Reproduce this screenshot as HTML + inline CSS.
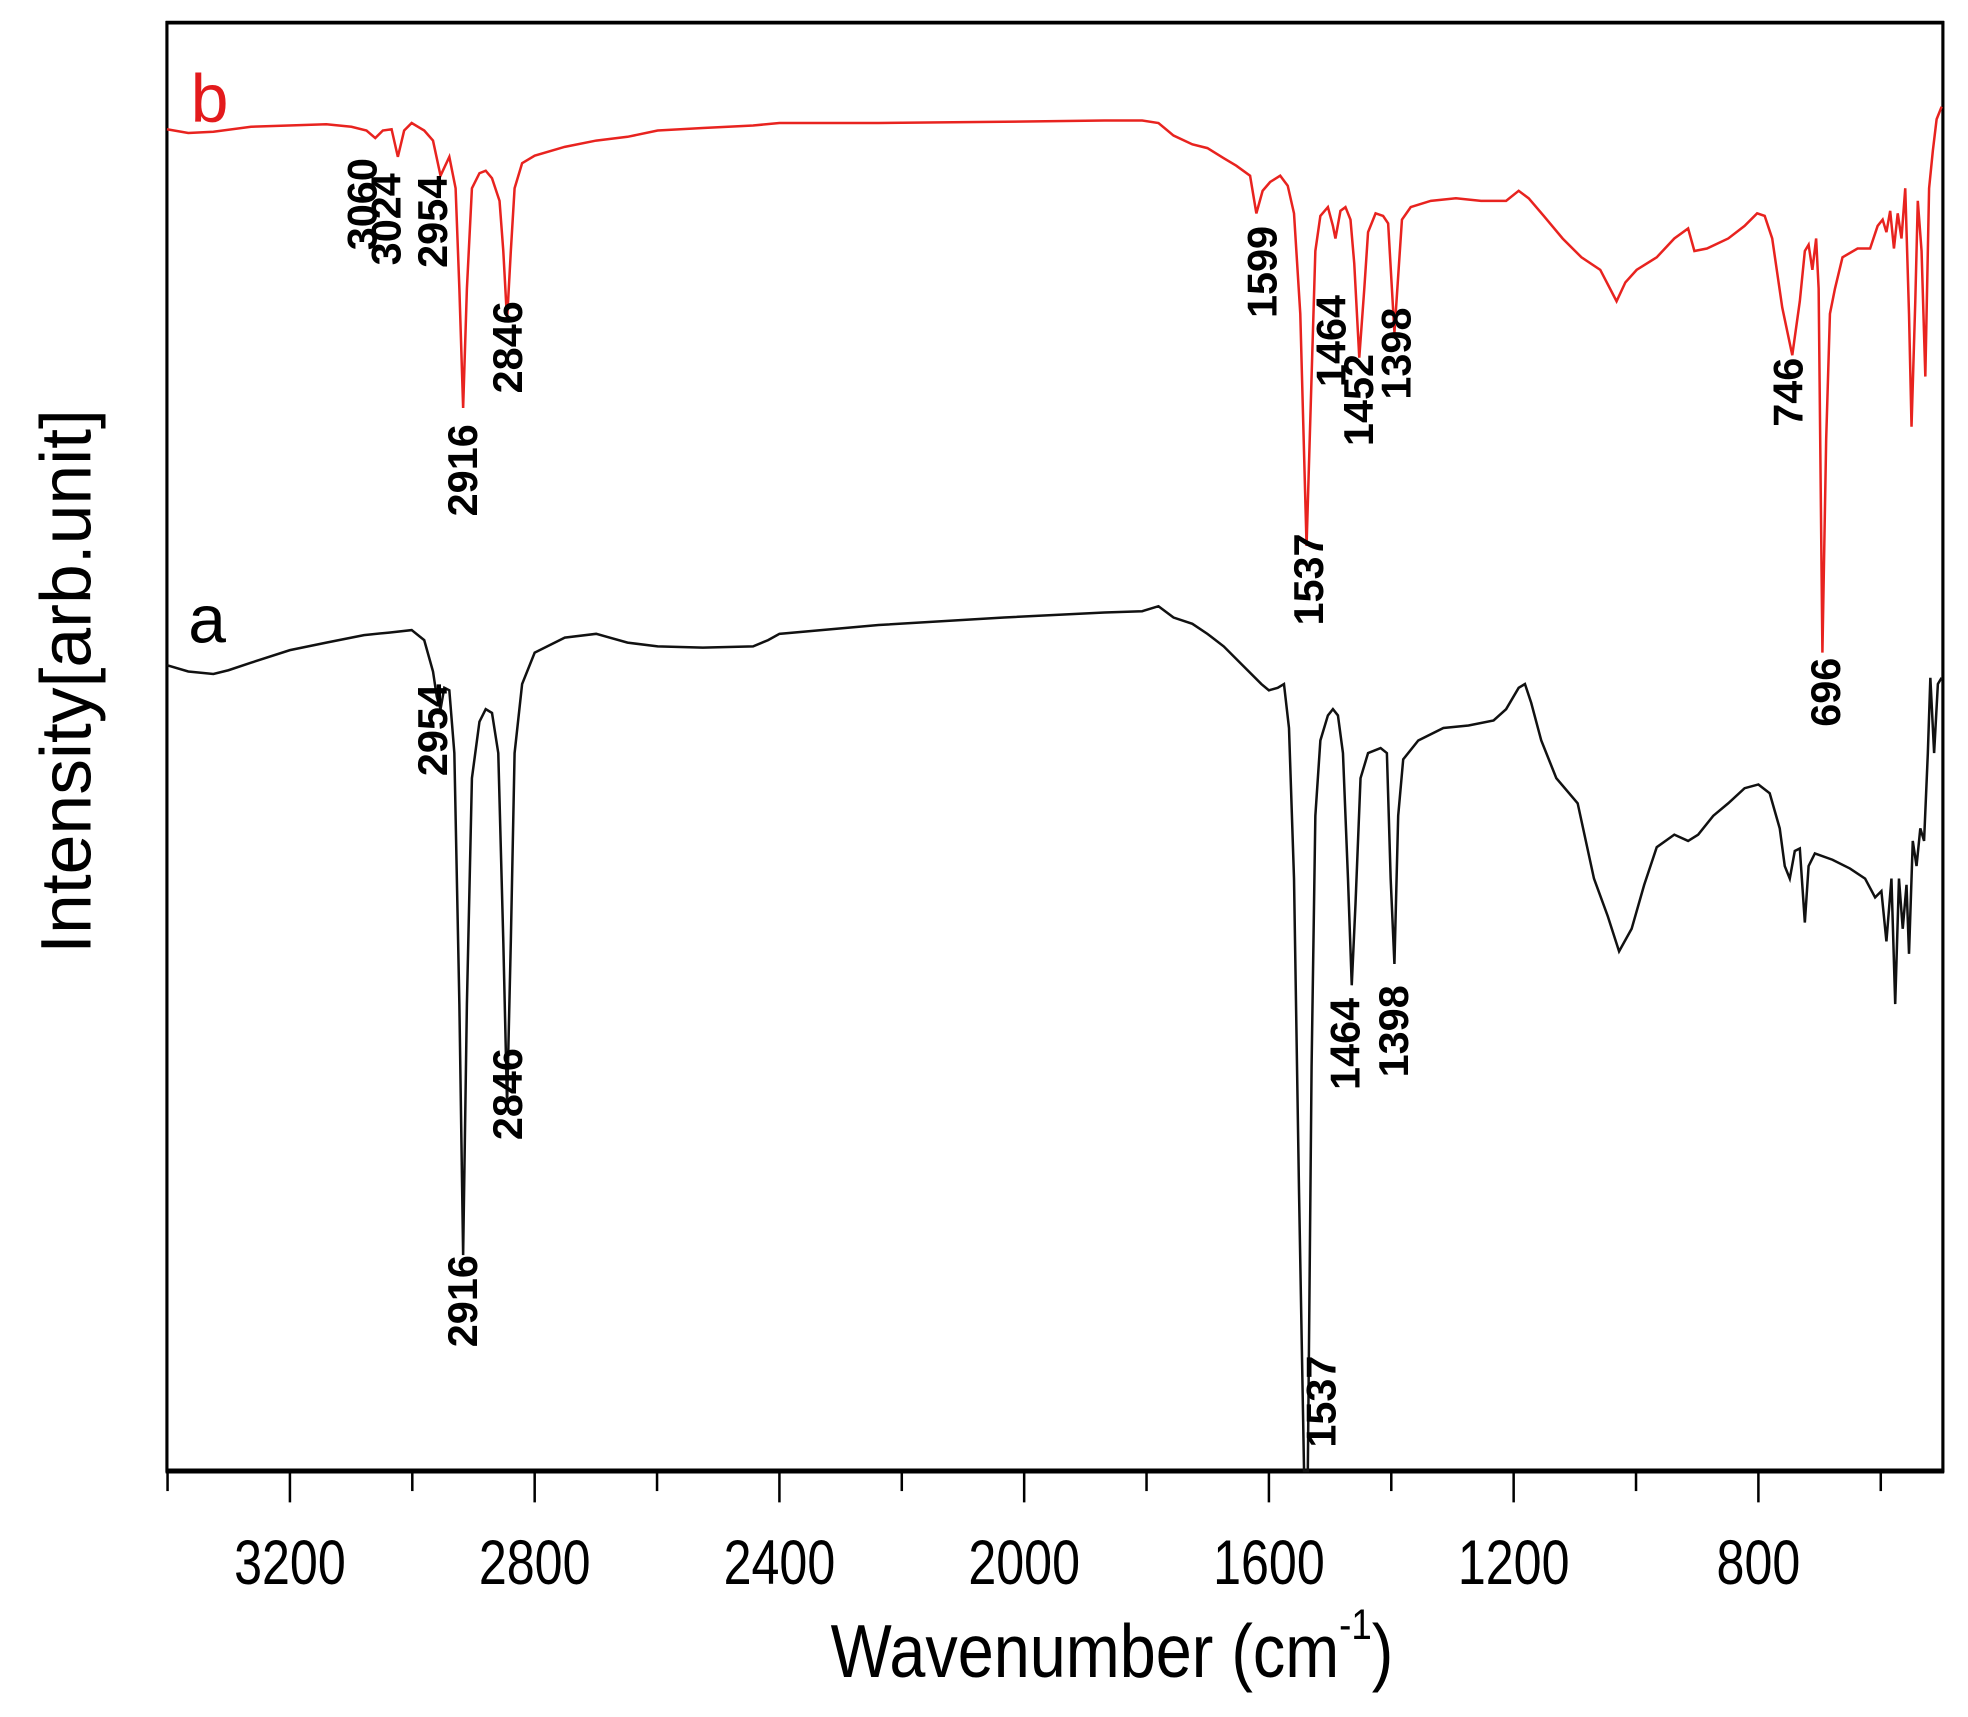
<!DOCTYPE html>
<html><head><meta charset="utf-8"><style>
html,body{margin:0;padding:0;background:#fff;}
svg{display:block;}
text{font-family:"Liberation Sans",sans-serif;}
.pk{font-size:33px;font-weight:bold;fill:#000;}
</style></head><body>
<svg width="1968" height="1717" viewBox="0 0 1568 1368" preserveAspectRatio="none" xmlns="http://www.w3.org/2000/svg">
<rect x="0" y="0" width="1568" height="1368" fill="#fff"/>
<rect x="133" y="18" width="1415" height="1154" fill="none" stroke="#000" stroke-width="2.5"/>
<line x1="132" y1="1172" x2="1549" y2="1172" stroke="#000" stroke-width="4"/>
<line x1="132" y1="18" x2="1549" y2="18" stroke="#000" stroke-width="3"/>
<g stroke="#000" stroke-width="2">
<line x1="231" y1="1172" x2="231" y2="1197"/>
<line x1="426" y1="1172" x2="426" y2="1197"/>
<line x1="621" y1="1172" x2="621" y2="1197"/>
<line x1="816" y1="1172" x2="816" y2="1197"/>
<line x1="1011" y1="1172" x2="1011" y2="1197"/>
<line x1="1206" y1="1172" x2="1206" y2="1197"/>
<line x1="1401" y1="1172" x2="1401" y2="1197"/>
<line x1="133.5" y1="1172" x2="133.5" y2="1188"/>
<line x1="328.5" y1="1172" x2="328.5" y2="1188"/>
<line x1="523.5" y1="1172" x2="523.5" y2="1188"/>
<line x1="718.5" y1="1172" x2="718.5" y2="1188"/>
<line x1="913.5" y1="1172" x2="913.5" y2="1188"/>
<line x1="1108.5" y1="1172" x2="1108.5" y2="1188"/>
<line x1="1303.5" y1="1172" x2="1303.5" y2="1188"/>
<line x1="1498.5" y1="1172" x2="1498.5" y2="1188"/>
</g>
<g font-size="50" text-anchor="middle" fill="#000">
<text transform="translate(231,1262) scale(0.8,1)">3200</text>
<text transform="translate(426,1262) scale(0.8,1)">2800</text>
<text transform="translate(621,1262) scale(0.8,1)">2400</text>
<text transform="translate(816,1262) scale(0.8,1)">2000</text>
<text transform="translate(1011,1262) scale(0.8,1)">1600</text>
<text transform="translate(1206,1262) scale(0.8,1)">1200</text>
<text transform="translate(1401,1262) scale(0.8,1)">800</text>
</g>
<text transform="translate(886,1336) scale(0.86,1)" font-size="60" text-anchor="middle" fill="#000">Wavenumber (cm<tspan font-size="34" dy="-30">-1</tspan><tspan dy="30">)</tspan></text>
<text transform="translate(72,543) rotate(-90)" font-size="57" text-anchor="middle" fill="#000">Intensity[arb.unit]</text>
<text x="152" y="97" font-size="54" fill="#e31a1c">b</text>
<text x="150" y="512" font-size="54" fill="#000">a</text>
<polyline fill="none" stroke="#e8231f" stroke-width="2" points="
133,103 150,106 170,105 200,101 230,100 260,99 280,101 292,104 299,110 305,104 312,103 317,125 322,104 328,98 338,104 345,112 351,140 358,125 363,150 366,230 369,325 372,230 376,150 382,138 387,136 392,142 398,160 401,200 404,255 407,200 410,150 416,130 426,124 450,117 475,112 500,109 524,104 560,102 600,100 621,98 700,98 800,97 880,96 910,96 923,98 935,108 950,115 962,118 975,126 985,132 996,140 1001,170 1006,152 1012,145 1020,140 1026,148 1031,170 1036,250 1041,435 1045,300 1048,200 1052,172 1058,165 1062,180 1064,190 1068,168 1072,165 1076,175 1079,210 1083,285 1087,230 1090,185 1096,170 1102,172 1106,178 1109,230 1111,265 1114,220 1117,175 1124,165 1140,160 1160,158 1180,160 1200,160 1210,152 1218,158 1230,172 1245,190 1260,205 1275,215 1288,240 1295,225 1304,215 1320,205 1334,190 1345,182 1350,200 1360,198 1377,190 1390,180 1400,170 1406,172 1412,190 1420,245 1428,283 1434,240 1438,200 1441,195 1444,215 1447,190 1449,230 1452,520 1455,350 1458,250 1462,230 1468,205 1480,198 1490,198 1496,180 1500,175 1503,185 1506,168 1509,198 1512,170 1515,190 1518,150 1521,250 1523,340 1526,240 1528,160 1531,200 1534,300 1537,150 1540,120 1543,95 1547,85"/>
<polyline fill="none" stroke="#111" stroke-width="2" points="
133,530 150,535 170,537 182,534 200,528 231,518 260,512 290,506 310,504 328,502 338,510 345,535 348,555 351,565 354,548 358,550 362,600 366,800 369,1000 372,800 376,620 382,575 387,565 392,568 397,600 401,750 404,880 407,750 410,600 416,545 426,520 450,508 475,505 500,512 524,515 560,516 600,515 612,510 621,505 700,498 800,492 880,488 910,487 923,483 935,492 950,497 962,505 975,515 990,530 1005,545 1011,550 1018,548 1023,545 1027,580 1031,700 1035,950 1039,1172 1042,1172 1045,850 1048,650 1052,590 1058,570 1062,565 1066,570 1070,600 1074,700 1077,785 1080,720 1084,620 1090,600 1100,596 1105,600 1108,700 1111,768 1114,650 1118,605 1130,590 1150,580 1170,578 1190,574 1200,565 1210,548 1215,545 1220,560 1228,590 1240,620 1257,640 1270,700 1281,730 1290,758 1300,740 1310,705 1320,675 1334,665 1345,670 1353,665 1365,650 1377,640 1390,628 1401,625 1410,632 1418,660 1422,690 1426,700 1430,678 1434,676 1438,735 1441,690 1446,680 1460,685 1474,692 1486,700 1494,715 1499,710 1503,750 1507,700 1510,800 1513,700 1516,740 1519,705 1521,760 1524,670 1527,690 1530,660 1533,670 1536,600 1538,540 1541,600 1544,545 1547,540"/>
<g class="pk">
<text transform="translate(300,126) rotate(-90)" text-anchor="end">3060</text>
<text transform="translate(319,138) rotate(-90)" text-anchor="end">3024</text>
<text transform="translate(356,140) rotate(-90)" text-anchor="end">2954</text>
<text transform="translate(380,338) rotate(-90)" text-anchor="end">2916</text>
<text transform="translate(416,240) rotate(-90)" text-anchor="end">2846</text>
<text transform="translate(1017,180) rotate(-90)" text-anchor="end">1599</text>
<text transform="translate(1072,235) rotate(-90)" text-anchor="end">1464</text>
<text transform="translate(1094,282) rotate(-90)" text-anchor="end">1452</text>
<text transform="translate(1124,245) rotate(-90)" text-anchor="end">1398</text>
<text transform="translate(1054,425) rotate(-90)" text-anchor="end">1537</text>
<text transform="translate(1436,285) rotate(-90)" text-anchor="end">746</text>
<text transform="translate(1466,524) rotate(-90)" text-anchor="end">696</text>
<text transform="translate(356,545) rotate(-90)" text-anchor="end">2954</text>
<text transform="translate(380,1000) rotate(-90)" text-anchor="end">2916</text>
<text transform="translate(416,835) rotate(-90)" text-anchor="end">2846</text>
<text transform="translate(1083,795) rotate(-90)" text-anchor="end">1464</text>
<text transform="translate(1122,785) rotate(-90)" text-anchor="end">1398</text>
<text transform="translate(1064,1080) rotate(-90)" text-anchor="end">1537</text>
</g>
</svg>
</body></html>
